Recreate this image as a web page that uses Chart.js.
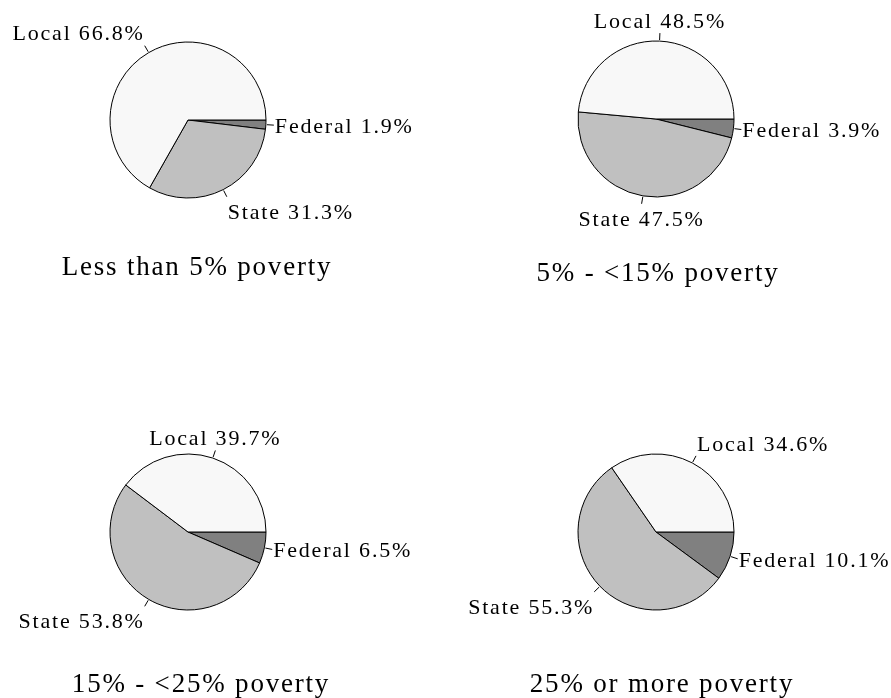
<!DOCTYPE html>
<html>
<head>
<meta charset="utf-8">
<script src="https://cdn.jsdelivr.net/npm/chart.js@4"></script>
<style>
  body { margin: 0; background: #fff; }
  #wrap { position: relative; width: 891px; height: 698px; }
  #wrap canvas { position: absolute; left: 0; top: 0; }
</style>
</head>
<body>
<div id="wrap">
  <canvas id="pie0" width="891" height="698"></canvas>
  <canvas id="pie1" width="891" height="698"></canvas>
  <canvas id="pie2" width="891" height="698"></canvas>
  <canvas id="pie3" width="891" height="698"></canvas>
</div>
<script>
    // data
    const categories = ['Federal', 'State', 'Local']
    const groups = ['Less than 5% poverty', '5% - <15% poverty', '15% - <25% poverty', '25% or more poverty']
    const federal = [1.9, 3.9, 6.5, 10.1]
    const state = [31.3, 47.5, 53.8, 55.3]
    const local = [66.8, 48.5, 39.7, 34.6]

    const colors = ['#808080', '#c0c0c0', '#f8f8f8']

    // layout: pie centres and title positions
    const centers = [[188, 120], [656, 119], [188, 532], [656, 532]]
    const titlePos = [[197, 275], [658, 281], [201, 692], [662, 692]]
    const R = 78
    const serif = '"Liberation Serif", "Times New Roman", serif'

    const sliceLabels = {
        id: 'sliceLabels',
        afterDatasetsDraw(chart, args, opts) {
            const ctx = chart.ctx
            const meta = chart.getDatasetMeta(0)
            const values = chart.data.datasets[0].data
            ctx.save()
            ctx.fillStyle = '#000'
            ctx.strokeStyle = '#000'
            ctx.lineWidth = 1
            ctx.font = '22px ' + serif
            ctx.letterSpacing = '1.8px'
            meta.data.forEach((arc, i) => {
                const a = (arc.startAngle + arc.endAngle) / 2
                const r = arc.outerRadius
                const c = Math.cos(a), s = Math.sin(a)
                const x2 = arc.x + c * (r + 8), y2 = arc.y + s * (r + 8)
                ctx.beginPath()
                ctx.moveTo(arc.x + c * (r + 1), arc.y + s * (r + 1))
                ctx.lineTo(x2, y2)
                ctx.stroke()

                const align = Math.abs(c) < 0.35 ? 'center' : (c > 0 ? 'left' : 'right')
                const base = Math.abs(s) < 0.4 ? 'middle' : (s > 0 ? 'top' : 'bottom')
                ctx.textAlign = align
                ctx.textBaseline = base
                const tx = x2 + (align === 'left' ? 1 : 0)
                const ty = y2 + (base === 'top' ? 5 : base === 'middle' ? 2 : 0)
                ctx.fillText(chart.data.labels[i] + ' ' + values[i].toFixed(1) + '%', tx, ty)
            })

            ctx.font = '27px ' + serif
            ctx.letterSpacing = '1.8px'
            ctx.textAlign = 'center'
            ctx.textBaseline = 'alphabetic'
            ctx.fillText(opts.title, opts.x, opts.y)
            ctx.restore()
        }
    }

    groups.forEach((title, g) => {
        const [cx, cy] = centers[g]
        new Chart(document.getElementById('pie' + g), {
            type: 'pie',
            data: {
                labels: categories,
                datasets: [{
                    data: [federal[g], state[g], local[g]],
                    backgroundColor: colors,
                    borderColor: '#000',
                    borderWidth: 1,
                    radius: R
                }]
            },
            options: {
                responsive: false,
                animation: false,
                rotation: 90,
                layout: {
                    padding: { left: cx - R - 1, top: cy - R - 1, right: 891 - cx - R - 1, bottom: 698 - cy - R - 1 }
                },
                plugins: {
                    legend: { display: false },
                    tooltip: { enabled: false },
                    sliceLabels: { title: title, x: titlePos[g][0], y: titlePos[g][1] }
                },
                events: []
            },
            plugins: [sliceLabels]
        })
    })
</script>
</body>
</html>
